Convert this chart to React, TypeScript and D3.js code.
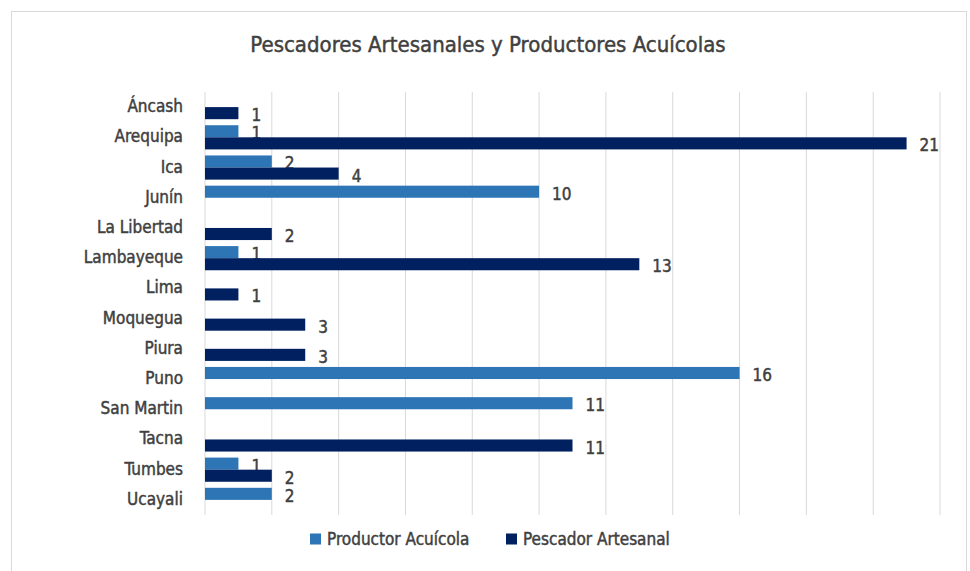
import { scaleBand, scaleLinear, range } from "d3";

const REGIONS = [
  "Áncash",
  "Arequipa",
  "Ica",
  "Junín",
  "La Libertad",
  "Lambayeque",
  "Lima",
  "Moquegua",
  "Piura",
  "Puno",
  "San Martin",
  "Tacna",
  "Tumbes",
  "Ucayali",
];

const PRODUCTOR = [0, 1, 2, 10, 0, 1, 0, 0, 0, 16, 11, 0, 1, 2];
const PESCADOR = [1, 21, 4, 0, 2, 13, 1, 3, 3, 0, 0, 11, 2, 0];

const SERIES = [
  { name: "Productor Acuícola", values: PRODUCTOR, color: "#2E75B6" },
  { name: "Pescador Artesanal", values: PESCADOR, color: "#002060" },
];

const TICKS = range(0, 23, 2);

const W = 970;
const H = 571;
const FONT = "'DejaVu Sans Condensed', 'Liberation Sans Narrow', sans-serif";
const TEXT = "#404040";

// slight stroke to get closer to the medium weight of the original font
const heavy = { stroke: TEXT, strokeWidth: 0.45 };

export default function App() {
  const x = scaleLinear().domain([0, 22]).range([205, 940]);
  const y = scaleBand<string>().domain(REGIONS).range([92, 515]).paddingInner(0.2).paddingOuter(0.1);
  const sub = scaleBand<string>()
    .domain(SERIES.map((s) => s.name))
    .range([0, y.bandwidth()]);

  return (
    <div style={{ position: "fixed", left: 0, top: 0 }}>
      <svg width={W} height={H} style={{ display: "block", fontFamily: FONT }}>
        <rect x={0} y={0} width={W} height={H} fill="#fff" />
        <rect x={11.5} y={11.5} width={955} height={H} fill="none" stroke="#d9d9d9" />

        <text x={488} y={52} textAnchor="middle" fontSize={22} fill={TEXT} {...heavy}>
          Pescadores Artesanales y Productores Acuícolas
        </text>

        {/* gridlines */}
        {TICKS.map((t) => (
          <line key={t} x1={x(t)} x2={x(t)} y1={92} y2={515} stroke="#d9d9d9" strokeWidth={1} />
        ))}

        {/* category labels */}
        {REGIONS.map((r) => (
          <text
            key={r}
            x={183}
            y={(y(r) ?? 0) + y.bandwidth() / 2 - 1}
            textAnchor="end"
            dominantBaseline="central"
            fontSize={17}
            fill={TEXT}
            {...heavy}
          >
            {r}
          </text>
        ))}

        {/* bars */}
        {SERIES.map((s) => (
          <g key={s.name}>
            {s.values.map((v, i) => {
              const r = REGIONS[i];
              const by = (y(r) ?? 0) + (sub(s.name) ?? 0);
              if (v === 0) return null;
              return (
                <g key={r}>
                  <rect x={x(0)} y={by} width={x(v) - x(0)} height={sub.bandwidth()} fill={s.color} />
                  <text
                    x={x(v) + 13}
                    y={by + sub.bandwidth() / 2 + 2}
                    dominantBaseline="central"
                    fontSize={17}
                    fill={TEXT}
                    {...heavy}
                  >
                    {v}
                  </text>
                </g>
              );
            })}
          </g>
        ))}

        {/* legend */}
        {SERIES.map((s, i) => {
          const lx = i === 0 ? 310 : 506;
          return (
            <g key={s.name} transform={`translate(${lx},539)`}>
              <rect x={0} y={-5.5} width={11} height={11} fill={s.color} />
              <text x={17} y={0} dominantBaseline="central" fontSize={17} fill={TEXT} {...heavy}>
                {s.name}
              </text>
            </g>
          );
        })}
      </svg>
    </div>
  );
}
